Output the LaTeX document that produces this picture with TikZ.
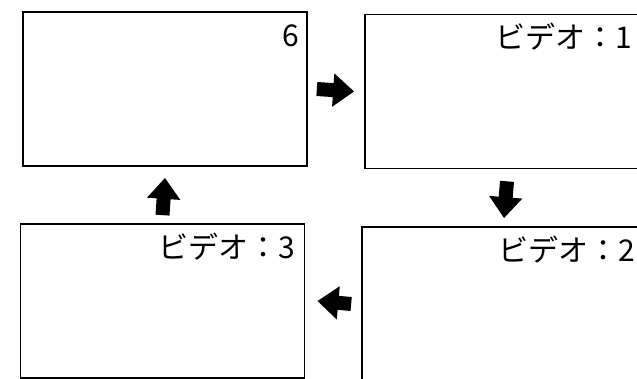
\documentclass[tikz,border=0pt]{standalone}
\usepackage{fontspec}
\newfontfamily\jpfont{Noto Sans CJK JP}
\usepackage{tikz}
\usetikzlibrary{arrows.meta, positioning}
\tikzstyle{screen} = [rectangle, draw, line width=1.7pt, inner sep=0pt,
                 minimum width=284pt, minimum height=154pt]
\tikzstyle{flow} = [line width=14pt, -{Triangle[length=21pt, width=32pt]}]
\tikzset{
	tag/.style={anchor=base east, inner sep=0pt,
		font=\jpfont\fontsize{30}{32}\selectfont},
}

\begin{document}
\begin{tikzpicture}[x=1pt, y=1pt]

\useasboundingbox (0,0) rectangle (637,379);
\clip (0,0) rectangle (637,379);

    	%screens
\node [screen] at (165,290) (b6) {};
\node [screen] at (507,287.5) (v1) {};
\node [screen] at (504,75) (v2) {};
\node [screen] at (162.5,78) (v3) {};

\node [tag] at ([xshift=-9pt,yshift=-35pt]b6.north east) (t6) {6};
\node [tag] at ([xshift=-18pt,yshift=-35pt]v1.north east) (t1) {ビデオ：1};
\node [tag] at ([xshift=-12pt,yshift=-35pt]v2.north east) (t2) {ビデオ：2};
\node [tag] at ([xshift=-10pt,yshift=-35pt]v3.north east) (t3) {ビデオ：3};

    	%arrows
\path [flow, draw] ([xshift=9pt]b6.east) -- ([xshift=-10pt]v1.west);
\path [flow, draw] ([yshift=-12pt]v1.south) -- ([yshift=8pt]v2.north);
\path [flow, draw] ([xshift=-10pt]v2.west) -- ([xshift=12pt]v3.east);
\path [flow, draw] ([yshift=8pt]v3.north) -- ([yshift=-11pt]b6.south);

\end{tikzpicture}
\end{document}
